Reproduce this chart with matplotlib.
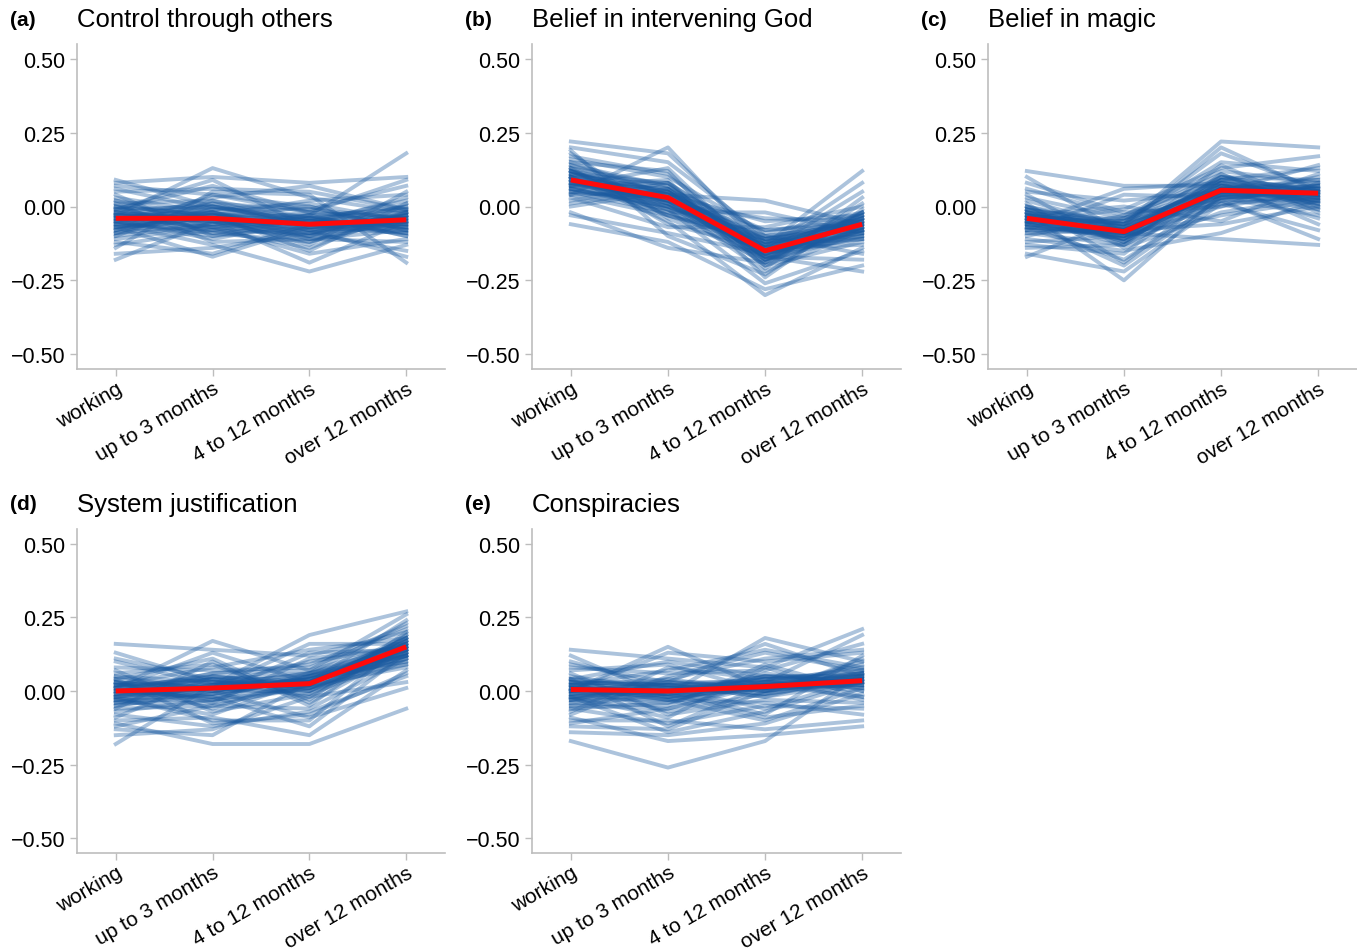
import numpy as np
import matplotlib
matplotlib.use("Agg")
import matplotlib.pyplot as plt

plt.rcParams["font.family"] = ["Liberation Sans", "DejaVu Sans"]

CATEGORIES = ["working", "up to 3 months", "4 to 12 months", "over 12 months"]
PANEL_LABELS = ["(a)", "(b)", "(c)", "(d)", "(e)"]
TITLES = ["Control through others", "Belief in intervening God", "Belief in magic",
          "System justification", "Conspiracies"]
YTICKS = [-0.50, -0.25, 0.00, 0.25, 0.50]

# red lines (posterior means)
MEAN_A = [-0.040, -0.040, -0.060, -0.045]
MEAN_B = [0.090, 0.030, -0.150, -0.060]
MEAN_C = [-0.040, -0.085, 0.055, 0.045]
MEAN_D = [0.000, 0.010, 0.025, 0.150]
MEAN_E = [0.005, 0.000, 0.015, 0.035]

# thin blue lines (draws), estimated to cover the spread seen in each panel
DRAWS_A = [
    [-0.02, 0.01, -0.08, -0.03], [-0.09, -0.06, -0.03, -0.10], [0.03, -0.02, -0.10, 0.01],
    [-0.05, -0.11, -0.05, -0.07], [0.07, 0.04, -0.02, -0.06], [-0.13, -0.08, -0.14, -0.02],
    [-0.01, 0.09, -0.07, -0.09], [-0.06, -0.03, 0.02, 0.04], [0.01, -0.12, -0.11, -0.12],
    [-0.10, 0.02, -0.04, 0.00], [-0.03, -0.05, -0.19, -0.05], [0.05, 0.06, 0.05, -0.01],
    [-0.16, -0.14, -0.09, -0.15], [-0.04, -0.01, -0.01, 0.07], [0.00, -0.09, -0.12, -0.04],
    [-0.08, 0.04, 0.00, -0.08], [0.09, 0.00, -0.06, 0.03], [-0.11, -0.07, -0.16, -0.11],
    [-0.03, 0.13, 0.03, -0.02], [-0.07, -0.02, -0.08, -0.17], [0.02, -0.04, -0.13, 0.05],
    [-0.12, -0.16, -0.06, -0.06], [-0.05, 0.03, 0.07, -0.01], [0.04, -0.10, -0.04, -0.09],
    [-0.18, -0.05, -0.10, -0.03], [-0.01, 0.07, -0.02, 0.09], [-0.06, -0.13, -0.22, -0.13],
    [0.06, -0.01, 0.01, -0.05], [-0.09, 0.00, -0.05, 0.02], [-0.02, -0.08, -0.09, -0.07],
    [-0.14, 0.05, 0.04, -0.19], [0.00, -0.03, -0.15, 0.01], [-0.04, -0.07, -0.03, 0.18],
    [0.08, 0.10, 0.08, 0.10], [-0.07, -0.17, -0.07, -0.04], [-0.03, -0.04, -0.11, -0.08],
    [-0.05, -0.02, -0.07, -0.06], [-0.01, -0.06, -0.04, -0.02], [-0.07, -0.04, -0.09, -0.03],
    [-0.03, 0.00, -0.05, -0.07], [-0.06, -0.08, -0.03, -0.01], [0.00, -0.03, -0.08, -0.05],
    [-0.08, -0.01, -0.06, -0.09], [-0.02, -0.05, -0.02, -0.04], [-0.04, -0.07, -0.10, -0.02],
    [-0.09, -0.03, -0.05, -0.06], [0.01, 0.02, -0.07, -0.03], [-0.05, -0.09, -0.04, -0.08],
    [-0.03, -0.02, -0.11, -0.05], [-0.06, 0.01, -0.01, -0.04], [-0.02, -0.04, -0.06, 0.00],
    [-0.10, -0.06, -0.08, -0.07], [-0.04, -0.03, -0.03, -0.10], [0.02, -0.07, -0.05, -0.03],
    [-0.07, -0.05, -0.12, -0.02], [-0.01, 0.00, -0.04, -0.06], [-0.05, -0.10, -0.07, -0.05],
    [-0.03, -0.04, 0.00, -0.08], [-0.08, -0.02, -0.09, -0.01], [-0.04, -0.05, -0.06, -0.04],
]
DRAWS_B = [
    [0.11, 0.05, -0.18, -0.04], [0.04, -0.03, -0.12, -0.10], [0.16, 0.10, -0.09, -0.02],
    [0.08, 0.01, -0.22, -0.08], [0.13, -0.06, -0.14, -0.13], [0.02, 0.08, -0.19, 0.01],
    [0.20, 0.15, -0.10, -0.06], [0.06, -0.01, -0.26, -0.15], [0.10, 0.04, -0.05, -0.03],
    [-0.03, -0.09, -0.16, -0.09], [0.15, 0.12, -0.21, 0.03], [0.09, 0.00, -0.13, -0.11],
    [0.01, 0.06, -0.08, -0.05], [0.18, -0.04, -0.17, -0.18], [0.07, 0.09, -0.24, -0.01],
    [0.12, 0.02, -0.11, -0.07], [-0.06, -0.12, -0.28, -0.20], [0.14, 0.07, -0.15, 0.05],
    [0.05, -0.02, -0.02, -0.09], [0.22, 0.18, -0.12, -0.04], [0.09, 0.03, -0.20, -0.12],
    [0.03, -0.07, -0.07, 0.00], [0.17, 0.11, -0.16, -0.08], [0.10, -0.05, -0.30, -0.14],
    [0.00, 0.05, -0.14, 0.08], [0.13, 0.01, -0.04, -0.05], [0.07, 0.13, -0.18, -0.10],
    [0.19, -0.10, -0.23, -0.02], [0.06, 0.00, -0.10, -0.16], [0.11, 0.08, -0.13, 0.12],
    [-0.02, -0.14, -0.19, -0.07], [0.15, 0.04, 0.02, -0.06], [0.08, 0.06, -0.17, -0.22],
    [0.12, -0.03, -0.11, -0.03], [0.04, 0.20, -0.15, -0.11], [0.10, 0.02, -0.08, -0.06],
    [0.09, 0.02, -0.16, -0.07], [0.06, 0.05, -0.13, -0.04], [0.12, 0.01, -0.18, -0.08],
    [0.08, 0.06, -0.14, -0.03], [0.10, 0.00, -0.12, -0.09], [0.05, 0.03, -0.17, -0.05],
    [0.13, 0.07, -0.15, -0.06], [0.07, -0.01, -0.19, -0.02], [0.11, 0.04, -0.11, -0.08],
    [0.08, 0.02, -0.16, -0.11], [0.04, 0.05, -0.14, -0.05], [0.10, -0.02, -0.13, -0.04],
    [0.12, 0.06, -0.20, -0.07], [0.09, 0.03, -0.10, -0.06], [0.06, 0.00, -0.15, -0.09],
    [0.14, 0.04, -0.17, -0.03], [0.07, 0.08, -0.12, -0.08], [0.10, 0.01, -0.16, -0.05],
    [0.09, -0.03, -0.14, -0.10], [0.05, 0.02, -0.18, -0.04], [0.11, 0.05, -0.13, -0.07],
    [0.08, 0.03, -0.15, -0.02], [0.12, -0.01, -0.11, -0.06], [0.07, 0.04, -0.17, -0.08],
]
DRAWS_C = [
    [-0.02, -0.07, 0.08, 0.03], [-0.09, -0.13, 0.02, 0.07], [0.03, -0.04, 0.11, -0.01],
    [-0.06, -0.11, 0.04, 0.10], [0.08, -0.02, 0.00, 0.05], [-0.13, -0.16, 0.09, 0.01],
    [-0.01, -0.05, 0.15, 0.12], [-0.07, -0.10, -0.03, 0.02], [0.01, -0.19, 0.06, -0.04],
    [-0.10, -0.03, 0.12, 0.08], [-0.04, -0.08, -0.06, 0.00], [0.05, 0.02, 0.05, 0.14],
    [-0.16, -0.22, 0.01, -0.08], [-0.03, -0.06, 0.18, 0.06], [0.00, -0.12, 0.07, 0.04],
    [-0.08, 0.04, 0.03, -0.03], [0.10, -0.09, 0.10, 0.09], [-0.11, -0.15, -0.09, 0.02],
    [-0.05, -0.01, 0.13, 0.17], [-0.02, -0.25, 0.04, -0.01], [0.02, -0.07, 0.20, 0.05],
    [-0.12, -0.10, 0.00, 0.11], [-0.06, 0.06, 0.08, -0.06], [0.04, -0.14, -0.02, 0.03],
    [-0.17, -0.04, 0.06, 0.07], [-0.01, -0.11, 0.14, 0.00], [-0.07, -0.18, 0.02, -0.11],
    [0.06, -0.03, 0.09, 0.13], [-0.09, -0.08, 0.05, 0.04], [-0.03, 0.00, -0.05, 0.08],
    [-0.14, -0.13, 0.11, -0.02], [0.00, -0.06, 0.22, 0.20], [-0.05, -0.20, 0.03, 0.06],
    [0.12, 0.07, 0.07, 0.01], [-0.08, -0.09, -0.11, -0.13], [-0.04, -0.05, 0.10, 0.05],
    [-0.04, -0.08, 0.06, 0.04], [-0.06, -0.10, 0.04, 0.06], [-0.02, -0.07, 0.08, 0.03],
    [-0.05, -0.11, 0.03, 0.05], [-0.03, -0.06, 0.07, 0.02], [-0.07, -0.09, 0.05, 0.07],
    [-0.01, -0.12, 0.09, 0.04], [-0.05, -0.05, 0.02, 0.03], [-0.03, -0.09, 0.06, 0.08],
    [-0.08, -0.07, 0.04, 0.01], [-0.02, -0.10, 0.10, 0.05], [-0.04, -0.13, 0.03, 0.04],
    [-0.06, -0.06, 0.07, 0.06], [0.00, -0.08, 0.05, 0.02], [-0.05, -0.11, 0.08, 0.05],
    [-0.03, -0.07, 0.01, 0.03], [-0.07, -0.09, 0.06, 0.09], [-0.04, -0.04, 0.04, 0.04],
    [-0.02, -0.12, 0.07, 0.00], [-0.06, -0.08, 0.09, 0.06], [-0.04, -0.10, 0.05, 0.03],
    [-0.01, -0.06, 0.03, 0.05], [-0.05, -0.09, 0.06, 0.02], [-0.03, -0.08, 0.04, 0.07],
]
DRAWS_D = [
    [0.02, 0.04, 0.01, 0.17], [-0.07, -0.03, 0.06, 0.12], [0.06, 0.09, -0.03, 0.20],
    [-0.03, -0.08, 0.04, 0.09], [0.10, 0.02, 0.10, 0.15], [-0.12, -0.05, -0.06, 0.11],
    [0.01, 0.13, 0.03, 0.24], [-0.05, -0.01, 0.13, 0.14], [0.04, -0.11, -0.08, 0.06],
    [-0.09, 0.05, 0.02, 0.18], [0.00, -0.02, -0.12, 0.13], [0.08, 0.07, 0.08, 0.21],
    [-0.15, -0.13, -0.02, 0.03], [-0.02, 0.01, 0.16, 0.16], [0.03, -0.06, 0.05, 0.10],
    [-0.06, 0.10, -0.05, 0.19], [0.13, 0.03, 0.00, 0.12], [-0.10, -0.09, -0.15, 0.07],
    [0.01, 0.17, 0.07, 0.26], [-0.04, -0.04, 0.11, 0.15], [0.05, 0.00, -0.09, 0.01],
    [-0.13, -0.15, 0.03, 0.13], [-0.01, 0.06, 0.09, 0.22], [0.07, -0.07, -0.01, 0.11],
    [-0.18, 0.02, 0.04, 0.16], [0.02, 0.08, 0.14, 0.18], [-0.08, -0.12, -0.07, 0.05],
    [0.11, 0.04, 0.06, 0.23], [-0.03, -0.03, 0.01, 0.09], [0.04, 0.11, -0.04, 0.14],
    [-0.11, -0.18, -0.18, -0.06], [0.00, 0.02, 0.19, 0.27], [-0.06, -0.05, 0.02, 0.08],
    [0.16, 0.14, 0.12, 0.20], [-0.02, -0.10, -0.10, 0.17], [0.03, 0.01, 0.05, 0.12],
    [0.00, 0.01, 0.03, 0.15], [-0.03, 0.03, 0.01, 0.13], [0.02, -0.01, 0.05, 0.17],
    [-0.01, 0.04, 0.00, 0.14], [0.03, 0.00, 0.04, 0.12], [-0.04, 0.02, 0.06, 0.16],
    [0.01, -0.03, 0.02, 0.18], [-0.02, 0.05, 0.03, 0.11], [0.04, 0.01, -0.01, 0.15],
    [-0.01, -0.02, 0.05, 0.13], [0.02, 0.03, 0.02, 0.19], [-0.05, 0.00, 0.04, 0.14],
    [0.00, 0.06, 0.07, 0.16], [0.03, -0.04, 0.01, 0.12], [-0.02, 0.02, 0.03, 0.17],
    [0.01, 0.04, -0.02, 0.15], [-0.03, -0.01, 0.04, 0.10], [0.02, 0.02, 0.06, 0.14],
    [-0.01, 0.00, 0.00, 0.16], [0.05, 0.03, 0.03, 0.13], [-0.04, 0.01, 0.02, 0.18],
    [0.00, -0.02, 0.05, 0.15], [0.01, 0.05, 0.01, 0.12], [-0.02, 0.01, 0.03, 0.14],
]
DRAWS_E = [
    [0.03, 0.02, -0.02, 0.06], [-0.06, -0.04, 0.05, 0.01], [0.07, 0.09, 0.00, 0.10],
    [-0.02, -0.09, 0.08, -0.02], [0.10, 0.01, -0.06, 0.04], [-0.11, -0.06, 0.03, 0.08],
    [0.00, 0.13, 0.10, 0.13], [-0.05, -0.01, -0.09, -0.05], [0.04, -0.12, 0.02, 0.03],
    [-0.08, 0.05, 0.13, 0.07], [0.01, -0.03, -0.04, -0.08], [0.08, 0.06, 0.07, 0.16],
    [-0.14, -0.15, -0.11, -0.01], [-0.03, 0.03, 0.16, 0.05], [0.02, -0.07, -0.01, 0.11],
    [-0.07, 0.08, 0.04, -0.03], [0.12, -0.02, 0.06, 0.02], [-0.10, -0.10, -0.13, -0.10],
    [0.00, 0.15, 0.01, 0.09], [-0.04, -0.05, 0.09, 0.00], [0.05, 0.00, -0.08, 0.12],
    [-0.12, -0.13, 0.00, 0.04], [-0.01, 0.04, 0.11, 0.14], [0.06, -0.08, -0.03, -0.04],
    [-0.17, -0.26, -0.17, 0.06], [0.02, 0.07, 0.14, 0.08], [-0.06, -0.11, -0.05, -0.06],
    [0.09, 0.03, 0.03, 0.19], [-0.03, -0.03, -0.10, 0.01], [0.04, 0.10, 0.05, 0.05],
    [-0.09, -0.17, -0.15, -0.12], [0.01, -0.01, 0.18, 0.10], [-0.05, -0.06, 0.02, -0.02],
    [0.14, 0.11, 0.08, 0.21], [-0.02, -0.14, -0.07, 0.03], [0.03, 0.02, 0.04, 0.07],
    [0.01, 0.00, 0.02, 0.04], [-0.02, 0.02, 0.00, 0.03], [0.03, -0.02, 0.03, 0.05],
    [0.00, 0.03, 0.01, 0.02], [-0.03, -0.01, 0.04, 0.06], [0.02, 0.01, -0.01, 0.03],
    [-0.01, -0.04, 0.02, 0.04], [0.04, 0.02, 0.03, 0.01], [0.00, -0.01, 0.05, 0.05],
    [-0.04, 0.01, 0.01, 0.03], [0.02, 0.04, 0.00, 0.07], [0.01, -0.03, 0.02, 0.02],
    [-0.02, 0.00, 0.04, 0.04], [0.03, 0.02, -0.02, 0.03], [0.00, -0.02, 0.01, 0.06],
    [-0.01, 0.01, 0.03, 0.00], [0.02, -0.01, 0.02, 0.04], [-0.03, 0.03, 0.00, 0.05],
    [0.01, 0.00, 0.05, 0.03], [0.04, -0.02, 0.01, 0.02], [-0.02, 0.01, 0.02, 0.06],
    [0.00, 0.02, -0.01, 0.04], [0.02, -0.03, 0.03, 0.03], [-0.01, 0.00, 0.02, 0.05],
]

MEANS = [MEAN_A, MEAN_B, MEAN_C, MEAN_D, MEAN_E]
DRAWS = [DRAWS_A, DRAWS_B, DRAWS_C, DRAWS_D, DRAWS_E]

W, H = 1357, 953
fig = plt.figure(figsize=(W / 100, H / 100), dpi=100)

# axes boxes in pixels: left, top, right, bottom
boxes = [
    (77, 45, 445, 370), (532, 45, 901, 370), (988, 45, 1357, 370),
    (77, 530, 445, 854), (532, 530, 901, 854),
]
spine_col = "#bdbdbd"
x = np.arange(1, 5)

for i, (l, t, r, b) in enumerate(boxes):
    ax = fig.add_axes([l / W, 1 - b / H, (r - l) / W, (b - t) / H])
    for d in DRAWS[i]:
        ax.plot(x, d, color="#1a5aa0", alpha=0.36, lw=2.8, solid_joinstyle="round")
    ax.plot(x, MEANS[i], color="#ff0a0a", lw=3.6, solid_capstyle="butt", zorder=5)

    ax.set_xlim(0.6, 4.4)
    ax.set_ylim(-0.55, 0.55)
    ax.set_yticks(YTICKS)
    ax.set_yticklabels([f"{v:.2f}".replace("-", "\u2212") for v in YTICKS], fontsize=15.5)
    ax.set_xticks(x)
    ax.set_xticklabels(CATEGORIES, fontsize=15, rotation=30, ha="right",
                       rotation_mode="anchor")
    ax.tick_params(axis="both", color=spine_col, length=5, width=1)
    ax.tick_params(axis="x", pad=2)
    for s in ["top", "right"]:
        ax.spines[s].set_visible(False)
    for s in ["left", "bottom"]:
        ax.spines[s].set_color(spine_col)
        ax.spines[s].set_linewidth(1.2)

    ty = 20 if t < 100 else 505
    fig.text((l - 67) / W, 1 - ty / H, PANEL_LABELS[i], fontsize=15, fontweight="bold",
             va="center", ha="left")
    fig.text(l / W, 1 - ty / H, TITLES[i], fontsize=18.5, va="center", ha="left")

fig.savefig("out.png", dpi=100)
